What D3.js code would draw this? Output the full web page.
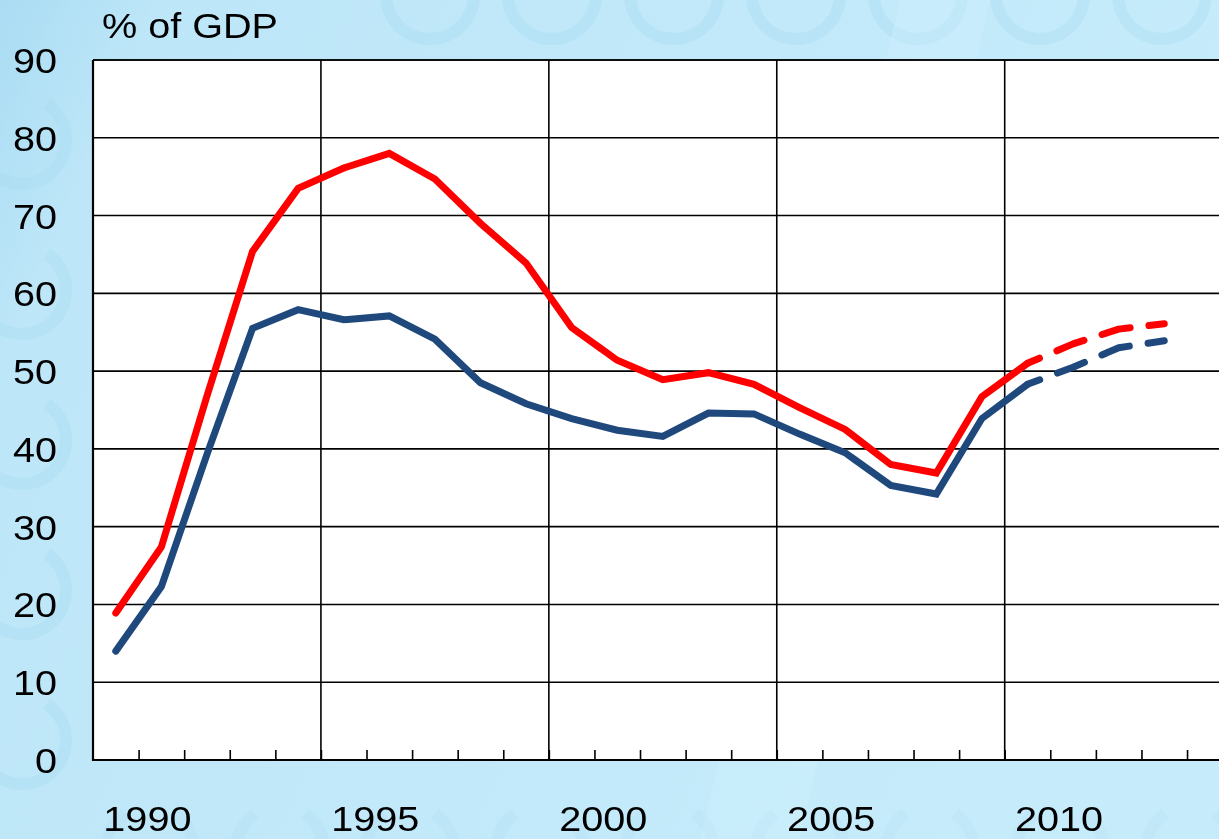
<!DOCTYPE html>
<html>
<head>
<meta charset="utf-8">
<script src="https://cdn.jsdelivr.net/npm/d3@7"></script>
<style>
  html, body { margin: 0; padding: 0; background: #c2e9fa; }
  svg { display: block; }
  text { font-family: Arial, "Liberation Sans", sans-serif; fill: #000; }
</style>
</head>
<body>
<svg id="chart" width="1219" height="839"></svg>
<script>
// ---- data ----
const years = [1989,1990,1991,1992,1993,1994,1995,1996,1997,1998,1999,2000,2001,2002,2003,2004,2005,2006,2007,2008,2009,2010,2011,2012];
const redSeries  = [18.9,27.4,46.8,65.4,73.5,76.1,78.0,74.7,69.0,63.9,55.6,51.4,48.9,49.8,48.3,45.3,42.5,38.0,36.9,46.7,51.0,53.5,55.4,56.1];
const blueSeries = [14.0,22.3,39.3,55.5,57.9,56.6,57.1,54.1,48.5,45.8,43.9,42.4,41.6,44.6,44.5,41.9,39.5,35.3,34.2,43.9,48.3,50.5,53.0,53.9];
const lastActualYear = 2009;
const yTicks = [0,10,20,30,40,50,60,70,80,90];
const xTickLabels = [1990,1995,2000,2005,2010];
const yAxisTitle = "% of GDP";

// ---- layout ----
const W = 1219, H = 839;
const pL = 93, pT = 60, pB = 760;
const catW = 45.585;
const svg = d3.select("#chart");

const x = d3.scaleLinear().domain([1988.5, 2013.5]).range([pL, pL + 25 * catW]);
const y = d3.scaleLinear().domain([0, 90]).range([pB, pT]);

// ---- background ----
const defs = svg.append("defs");
const bg = defs.append("linearGradient").attr("id", "bg").attr("x1", 0).attr("x2", 1).attr("y1", 0).attr("y2", 0.3);
bg.append("stop").attr("offset", "0%").attr("stop-color", "#aadcf3");
bg.append("stop").attr("offset", "12%").attr("stop-color", "#bde6f8");
bg.append("stop").attr("offset", "100%").attr("stop-color", "#c6ecfb");
svg.append("rect").attr("width", W).attr("height", H).attr("fill", "url(#bg)");

// faint euro-like watermark arcs (C shapes)
const arc = d3.arc().innerRadius(38).outerRadius(50).startAngle(0.6).endAngle(2 * Math.PI - 0.6);
const wm = svg.append("g").attr("fill", "#a6d9f0").attr("opacity", 0.35);
d3.range(0, 8).forEach(i => {
  wm.append("path").attr("d", arc).attr("transform", `translate(${430 + 122 * i},-5)`);
});
d3.range(0, 6).forEach(i => {
  wm.append("path").attr("d", arc).attr("transform", `translate(22,${140 + 150 * i})`);
});
d3.range(0, 9).forEach(i => {
  wm.append("path").attr("d", arc).attr("transform", `translate(${150 + 130 * i},850)`).attr("opacity", 0.6);
});
// light diagonal band
svg.append("path")
  .attr("d", "M 700 839 L 900 0 L 990 0 L 800 839 Z")
  .attr("fill", "#d2f1fd").attr("opacity", 0.35);

// ---- plot area ----
const plotRight = x(2013.5);
svg.append("rect").attr("x", pL).attr("y", pT)
  .attr("width", plotRight - pL).attr("height", pB - pT)
  .attr("fill", "#ffffff");

// horizontal gridlines
svg.append("g").selectAll("line").data(yTicks.filter(d => d > 0)).join("line")
  .attr("x1", pL).attr("x2", plotRight)
  .attr("y1", d => y(d)).attr("y2", d => y(d))
  .attr("stroke", "#000").attr("stroke-width", 1.6);

// vertical gridlines every 5 years (category boundaries)
const gridYears = [1993.5, 1998.5, 2003.5, 2008.5];
svg.append("g").selectAll("line").data(gridYears).join("line")
  .attr("x1", d => x(d)).attr("x2", d => x(d))
  .attr("y1", pT).attr("y2", pB)
  .attr("stroke", "#000").attr("stroke-width", 1.6);

// x axis with inside ticks at every category boundary
const boundaries = d3.range(1989.5, 2013.5, 1);
const xAxis = d3.axisBottom(x).tickValues(boundaries).tickSize(-10).tickFormat("");
const gx = svg.append("g").attr("transform", `translate(0,${pB})`).call(xAxis);
gx.select(".domain").remove();
gx.selectAll(".tick line").attr("stroke", "#000").attr("stroke-width", 1.6);
svg.append("line").attr("x1", pL).attr("x2", plotRight).attr("y1", pB).attr("y2", pB)
  .attr("stroke", "#000").attr("stroke-width", 2.2);
// left axis line and top border
svg.append("line").attr("x1", pL).attr("x2", pL).attr("y1", pT).attr("y2", pB + 1)
  .attr("stroke", "#000").attr("stroke-width", 2.2);
svg.append("line").attr("x1", pL).attr("x2", plotRight).attr("y1", pT).attr("y2", pT)
  .attr("stroke", "#000").attr("stroke-width", 1.6);

// ---- lines ----
const redPts = years.map((yr, i) => ({ yr, v: redSeries[i] }));
const bluePts = years.map((yr, i) => ({ yr, v: blueSeries[i] }));
const line = d3.line().x(d => x(d.yr)).y(d => y(d.v));

function drawSeries(pts, color) {
  const actual = pts.filter(d => d.yr <= lastActualYear);
  const fcst = pts.filter(d => d.yr >= lastActualYear);
  svg.append("path").datum(fcst).attr("d", line)
    .attr("fill", "none").attr("stroke", color).attr("stroke-width", 7)
    .attr("stroke-linecap", "round").attr("stroke-linejoin", "round")
    .attr("stroke-dasharray", "29,19").attr("stroke-dashoffset", 16);
  svg.append("path").datum(actual).attr("d", line)
    .attr("fill", "none").attr("stroke", color).attr("stroke-width", 7)
    .attr("stroke-linecap", "round").attr("stroke-linejoin", "miter");
}
drawSeries(bluePts, "#1f497d");
drawSeries(redPts, "#ff0000");

// ---- text ----
const sx = 1.1;
const fs = 36;
svg.append("g").selectAll("text").data(yTicks).join("text")
  .attr("transform", d => `translate(57,${y(d)}) scale(${sx},1)`)
  .attr("text-anchor", "end").attr("dy", "0.36em")
  .style("font-size", fs + "px")
  .text(d => d);

svg.append("g").selectAll("text").data(xTickLabels).join("text")
  .attr("transform", d => `translate(${x(d) - 14},831) scale(${sx},1)`)
  .attr("text-anchor", "middle")
  .style("font-size", fs + "px")
  .text(d => d);

svg.append("text")
  .attr("transform", `translate(102,38) scale(${sx},1)`)
  .style("font-size", fs + "px")
  .text(yAxisTitle);
</script>
</body>
</html>
